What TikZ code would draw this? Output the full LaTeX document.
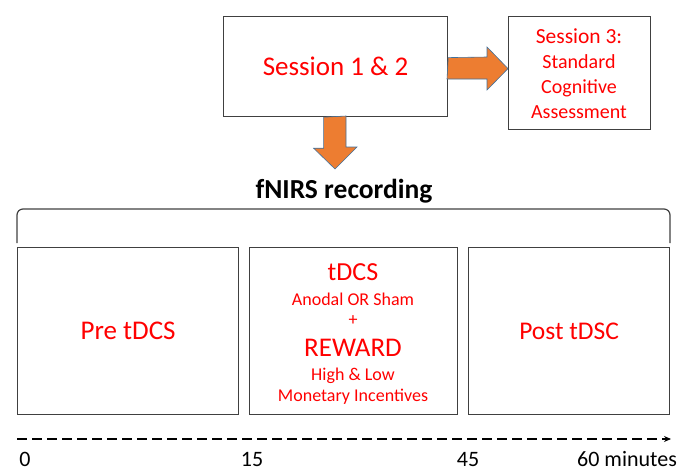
\documentclass[tikz,border=0pt]{standalone}
\usepackage{fontspec}
\setmainfont{Carlito}
\usetikzlibrary{calc,arrows.meta}
\definecolor{boxgray}{RGB}{64,64,64}
\definecolor{arrorange}{RGB}{237,125,49}
\definecolor{arredge}{RGB}{65,113,156}
\definecolor{txtred}{RGB}{255,0,0}
\tikzset{
  box/.style={draw=boxgray,line width=1.2pt,inner sep=0pt,anchor=north west},
  redtxt/.style={text=txtred,inner sep=0pt,align=center},
  blocktxt/.style={inner sep=0pt,text=black},
  fatarrow/.style={fill=arrorange,draw=arredge,line width=0.6pt,line join=miter},
  brace/.style={draw=boxgray,line width=1.2pt,rounded corners=6pt},
  timeline/.style={draw=black,line width=1.1pt,dash pattern=on 10pt off 5pt,-{Stealth[length=7pt,width=6pt]}}
}
\begin{document}
\begin{tikzpicture}[x=1pt,y=-1pt]
\useasboundingbox (0,0) rectangle (690,471);
% top boxes
\node[box,minimum width=224pt,minimum height=100pt] (s12) at (223,16) {};
\node[redtxt,font=\fontsize{27}{30}\selectfont] (s12t) at (s12.center) {Session 1 \& 2};
\node[box,minimum width=142pt,minimum height=113pt] (s3) at (508,16) {};
\node[redtxt,font=\fontsize{20}{25}\selectfont] (s3t) at (579,74) {{\fontsize{21.5}{25}\selectfont Session 3:}\\Standard\\Cognitive\\Assessment};
% right fat arrow
\coordinate (rtip) at ($(s3.west)+(0,-4.5)$);
\draw[fatarrow] ($(s12.east)+(0,-9)$) -- (487,57) -- (487,47) -- (rtip) -- (487,90) -- (487,79) -- (447,79) -- cycle;
% down fat arrow
\coordinate (dtip) at (335,169);
\draw[fatarrow] ($(s12.south)+(-12,0)$) -- ++(0,31) -- ++(-10,0) -- (dtip) -- (357,147) -- (346,147) -- (346,116) -- cycle;
% fNIRS label and brace
\node[blocktxt,font=\bfseries\fontsize{27.5}{30}\selectfont] (fn) at (344,191) {fNIRS recording};
\coordinate (bl) at (17,243);
\coordinate (br) at (670,243);
\draw[brace] (bl) -- (17,209) -- (670,209) -- (br);
% lower boxes
\node[box,minimum width=221pt,minimum height=167pt] (pre) at (17,247) {};
\node[box,minimum width=208pt,minimum height=167pt] (mid) at (249,247) {};
\node[box,minimum width=201pt,minimum height=167pt] (post) at (468,247) {};
\node[redtxt,font=\fontsize{27}{30}\selectfont] (pret) at (pre.center) {Pre tDCS};
\node[redtxt,font=\fontsize{25.5}{30}\selectfont] (postt) at (post.center) {Post tDSC};
\node[redtxt,font=\fontsize{26}{30}\selectfont] (m1) at (353,272) {tDCS};
\node[redtxt,font=\fontsize{18}{22}\selectfont] (m2) at (353,299) {Anodal OR Sham};
\node[redtxt,font=\fontsize{18}{22}\selectfont] (m3) at (353,321) {+};
\node[redtxt,font=\fontsize{27}{30}\selectfont] (m4) at (353,348) {REWARD};
\node[redtxt,font=\fontsize{18}{22}\selectfont] (m5) at (353,376) {High \& Low};
\node[redtxt,font=\fontsize{18}{22}\selectfont] (m6) at (353,397) {Monetary Incentives};
% timeline
\coordinate (tl0) at (17,439);
\coordinate (tl1) at (671,439);
\draw[timeline] (tl0) -- (tl1);
\node[blocktxt,font=\fontsize{22}{26}\selectfont] (t0) at (25,459) {0};
\node[blocktxt,font=\fontsize{22}{26}\selectfont] (t15) at (252,459) {15};
\node[blocktxt,font=\fontsize{22}{26}\selectfont] (t45) at (468,459.5) {45};
\node[blocktxt,font=\fontsize{22}{26}\selectfont] (t60) at (627,459) {60 minutes};
\end{tikzpicture}
\end{document}
